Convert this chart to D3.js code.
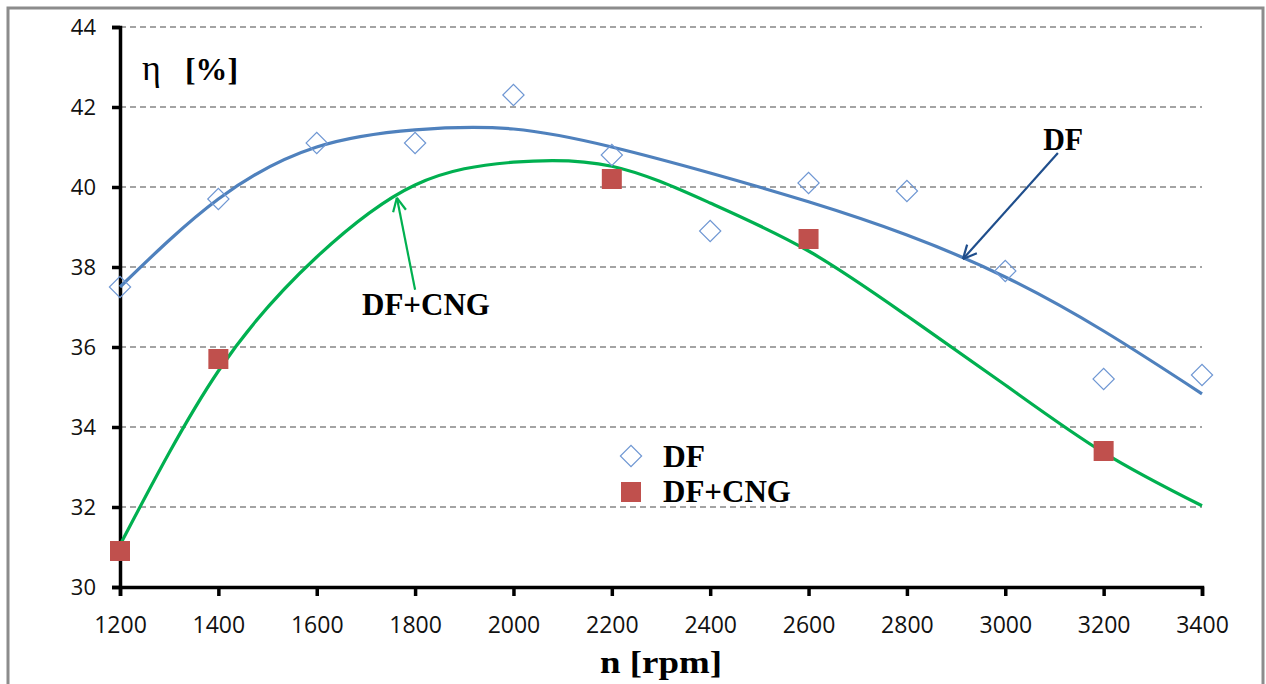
<!DOCTYPE html>
<html>
<head>
<meta charset="utf-8">
<script src="https://cdn.jsdelivr.net/npm/d3@7"></script>
<style>
  body { margin: 0; background: #fff; }
  svg { display: block; }
</style>
</head>
<body>
<svg id="chart" width="1266" height="684"></svg>
<script>
// measured points
const rpm = [1200, 1400, 1600, 1800, 2000, 2200, 2400, 2600, 2800, 3000, 3200, 3400];
const etaDF = [37.5, 39.7, 41.1, 41.1, 42.3, 40.8, 38.9, 40.1, 39.9, 37.9, 35.2, 35.3];
const rpmCNG = [1200, 1400, 2200, 2600, 3200];
const etaCNG = [30.9, 35.7, 40.2, 38.7, 33.4];

// trend lines
const trendRpm = [1200, 1400, 1600, 1800, 2000, 2200, 2400, 2600, 2800, 3000, 3200, 3400];
const trendDF = [37.5, 39.7, 41.0, 41.43, 41.45, 41.0, 40.35, 39.63, 38.8, 37.75, 36.4, 34.83];
const trendCNG = [31.05, 35.4, 38.25, 40.05, 40.62, 40.52, 39.6, 38.4, 36.78, 35.05, 33.36, 32.03];

const xTicks = [1200, 1400, 1600, 1800, 2000, 2200, 2400, 2600, 2800, 3000, 3200, 3400];
const yTicks = [30, 32, 34, 36, 38, 40, 42, 44];

const svg = d3.select("#chart");
const plot = { left: 120, right: 1202, top: 27, bottom: 587 };

const x = d3.scaleLinear().domain([1200, 3400]).range([plot.left, plot.right]);
const y = d3.scaleLinear().domain([30, 44]).range([plot.bottom, plot.top]);

// outer frame
svg.append("rect")
  .attr("x", 8).attr("y", 8).attr("width", 1255).attr("height", 700)
  .attr("fill", "none").attr("stroke", "#8c8c8c").attr("stroke-width", 3);

// grid
svg.append("g").selectAll("line")
  .data(yTicks.filter(d => d > 30))
  .enter().append("line")
  .attr("x1", plot.left).attr("x2", plot.right)
  .attr("y1", d => y(d)).attr("y2", d => y(d))
  .attr("stroke", "#868686").attr("stroke-width", 1.3)
  .attr("stroke-dasharray", "6,4");

// axes
const xAxis = svg.append("g")
  .attr("transform", `translate(0,${plot.bottom})`)
  .call(d3.axisBottom(x).tickValues(xTicks).tickSize(9).tickPadding(21).tickFormat(d3.format("d")));
const yAxis = svg.append("g")
  .attr("transform", `translate(${plot.left},0)`)
  .call(d3.axisLeft(y).tickValues(yTicks).tickSize(8).tickPadding(16).tickFormat(d3.format("d")));

[xAxis, yAxis].forEach(g => {
  g.select(".domain").attr("stroke", "#000").attr("stroke-width", 3.5);
  g.selectAll(".tick line").attr("stroke", "#000").attr("stroke-width", 3.5);
  g.selectAll(".tick text").attr("fill", "#111")
    .style("font-family", "'Open Sans', sans-serif");
});
xAxis.selectAll(".tick text").style("font-size", "23px");
yAxis.selectAll(".tick text").style("font-size", "22px");

// trend lines
const line = d3.line().curve(d3.curveNatural)
  .x(d => x(d[0])).y(d => y(d[1]));

svg.append("path")
  .datum(d3.zip(trendRpm, trendDF))
  .attr("d", line)
  .attr("fill", "none").attr("stroke", "#4f81bd").attr("stroke-width", 3.2);

svg.append("path")
  .datum(d3.zip(trendRpm, trendCNG))
  .attr("d", line)
  .attr("fill", "none").attr("stroke", "#00b050").attr("stroke-width", 3.2);

// markers
const diamond = d3.symbol().type(d3.symbolSquare).size(225);
svg.append("g").selectAll("path")
  .data(d3.zip(rpm, etaDF))
  .enter().append("path")
  .attr("d", diamond)
  .attr("transform", d => `translate(${x(d[0])},${y(d[1])}) rotate(45)`)
  .attr("fill", "none").attr("stroke", "#6f97d3").attr("stroke-width", 1.2);

svg.append("g").selectAll("rect")
  .data(d3.zip(rpmCNG, etaCNG))
  .enter().append("rect")
  .attr("x", d => x(d[0]) - 10).attr("y", d => y(d[1]) - 10)
  .attr("width", 20).attr("height", 20)
  .attr("fill", "#c0504d");

// annotations (data coordinates)
const serif = "'Liberation Serif', 'Times New Roman', serif";

function arrow(from, to, color) {
  const x1 = x(from[0]), y1 = y(from[1]), x2 = x(to[0]), y2 = y(to[1]);
  const ang = Math.atan2(y2 - y1, x2 - x1);
  const len = 15, spread = 0.45;
  svg.append("line")
    .attr("x1", x1).attr("y1", y1).attr("x2", x2).attr("y2", y2)
    .attr("stroke", color).attr("stroke-width", 2.2);
  [-spread, spread].forEach(s => {
    svg.append("line")
      .attr("x1", x2).attr("y1", y2)
      .attr("x2", x2 - len * Math.cos(ang + s))
      .attr("y2", y2 - len * Math.sin(ang + s))
      .attr("stroke", color).attr("stroke-width", 2.2);
  });
}

arrow([3107, 40.85], [2914, 38.2], "#1f4e8c");
arrow([1800, 37.43], [1763, 39.73], "#00b050");

svg.append("text")
  .attr("x", x(3077)).attr("y", y(40.93))
  .attr("font-family", serif).attr("font-weight", "bold").attr("font-size", 31)
  .attr("textLength", 40).attr("lengthAdjust", "spacingAndGlyphs")
  .text("DF");

svg.append("text")
  .attr("x", x(1692)).attr("y", y(36.8))
  .attr("font-family", serif).attr("font-weight", "bold").attr("font-size", 31)
  .attr("textLength", 128).attr("lengthAdjust", "spacingAndGlyphs")
  .text("DF+CNG");

// y title
svg.append("text")
  .attr("x", 142).attr("y", 80)
  .attr("font-family", serif).attr("font-size", 36)
  .text("η");
svg.append("text")
  .attr("x", 185).attr("y", 80)
  .attr("font-family", serif).attr("font-weight", "bold").attr("font-size", 31)
  .attr("textLength", 53).attr("lengthAdjust", "spacingAndGlyphs")
  .text("[%]");

// x title
svg.append("text")
  .attr("x", (plot.left + plot.right) / 2).attr("y", 673)
  .attr("text-anchor", "middle")
  .attr("font-family", serif).attr("font-weight", "bold").attr("font-size", 31)
  .attr("textLength", 122).attr("lengthAdjust", "spacingAndGlyphs")
  .text("n [rpm]");

// legend
const legend = svg.append("g").attr("transform", "translate(631,456)");
legend.append("path")
  .attr("d", diamond).attr("transform", "rotate(45)")
  .attr("fill", "none").attr("stroke", "#6f97d3").attr("stroke-width", 1.2);
legend.append("rect")
  .attr("x", -10).attr("y", 26).attr("width", 20).attr("height", 20)
  .attr("fill", "#c0504d");
legend.append("text")
  .attr("x", 32).attr("y", 11)
  .attr("font-family", serif).attr("font-weight", "bold").attr("font-size", 31)
  .attr("textLength", 42).attr("lengthAdjust", "spacingAndGlyphs")
  .text("DF");
legend.append("text")
  .attr("x", 32).attr("y", 46)
  .attr("font-family", serif).attr("font-weight", "bold").attr("font-size", 31)
  .attr("textLength", 128).attr("lengthAdjust", "spacingAndGlyphs")
  .text("DF+CNG");
</script>
</body>
</html>
